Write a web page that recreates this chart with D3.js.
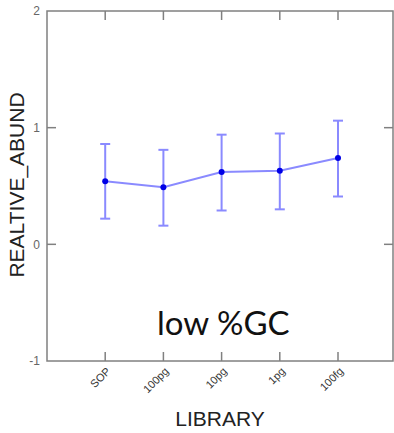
<!DOCTYPE html>
<html>
<head>
<meta charset="utf-8">
<script src="https://cdn.jsdelivr.net/npm/d3@7"></script>
<style>
    body { margin: 0; background: #fff; }
    svg { display: block; }
</style>
</head>
<body>
<div id="chart"><svg></svg></div>
<script>
// data
var libraries = ["SOP", "100pg", "10pg", "1pg", "100fg"];
var means = [0.54, 0.49, 0.62, 0.63, 0.74];
var upper = [0.86, 0.81, 0.94, 0.95, 1.06];
var lower = [0.22, 0.16, 0.29, 0.30, 0.41];
var yTicks = [-1, 0, 1, 2];

var width = 394;
var height = 433;
var svg = d3.select("#chart svg").attr("width", width).attr("height", height);

var boxLeft = 47, boxRight = 393, boxTop = 11, boxBottom = 361;
var axisColor = "#808080";
var tickLen = 9;

var x = d3.scaleLinear().domain([0, libraries.length + 1]).range([boxLeft, boxLeft + 58.2 * (libraries.length + 1)]);
var y = d3.scaleLinear().domain([-1, 2]).range([boxBottom, boxTop]);

// frame
var frame = svg.append("g").attr("class", "frame");
frame.append("rect")
    .attr("x", boxLeft).attr("y", boxTop)
    .attr("width", boxRight - boxLeft).attr("height", boxBottom - boxTop)
    .attr("fill", "none").attr("stroke", axisColor).attr("stroke-width", 1.5);

// x ticks on top and bottom, pointing inward
libraries.forEach(function (lib, i) {
    var xp = x(i + 1);
    frame.append("line").attr("x1", xp).attr("x2", xp)
        .attr("y1", boxBottom).attr("y2", boxBottom - tickLen)
        .attr("stroke", axisColor).attr("stroke-width", 1.5);
    frame.append("line").attr("x1", xp).attr("x2", xp)
        .attr("y1", boxTop).attr("y2", boxTop + tickLen)
        .attr("stroke", axisColor).attr("stroke-width", 1.5);
    frame.append("text")
        .attr("transform", "translate(" + (xp + 6) + "," + (boxBottom + 11) + ") rotate(-45)")
        .attr("text-anchor", "end")
        .attr("font-family", "Liberation Sans, Arial, sans-serif")
        .attr("font-size", 11)
        .attr("fill", "#333")
        .text(lib);
});

// y ticks left and right
yTicks.forEach(function (t) {
    var yp = y(t);
    if (t > -1 && t < 2) {
        frame.append("line").attr("x1", boxLeft).attr("x2", boxLeft + tickLen)
            .attr("y1", yp).attr("y2", yp)
            .attr("stroke", axisColor).attr("stroke-width", 1.5);
        frame.append("line").attr("x1", boxRight).attr("x2", boxRight - tickLen)
            .attr("y1", yp).attr("y2", yp)
            .attr("stroke", axisColor).attr("stroke-width", 1.5);
    }
    frame.append("text")
        .attr("x", boxLeft - 7).attr("y", yp)
        .attr("dy", "0.35em")
        .attr("text-anchor", "end")
        .attr("font-family", "Liberation Sans, Arial, sans-serif")
        .attr("font-size", 12)
        .attr("fill", "#666")
        .text(t);
});

// error bars
var lineColor = "#8a8aff";
var bars = svg.append("g").attr("class", "errorbars");
libraries.forEach(function (lib, i) {
    var xp = x(i + 1);
    bars.append("line").attr("x1", xp).attr("x2", xp)
        .attr("y1", y(lower[i])).attr("y2", y(upper[i]))
        .attr("stroke", lineColor).attr("stroke-width", 2);
    [lower[i], upper[i]].forEach(function (v) {
        bars.append("line").attr("x1", xp - 5).attr("x2", xp + 5)
            .attr("y1", y(v)).attr("y2", y(v))
            .attr("stroke", lineColor).attr("stroke-width", 2);
    });
});

// mean line and markers
var line = d3.line()
    .x(function (d, i) { return x(i + 1); })
    .y(function (d) { return y(d); });
svg.append("path")
    .datum(means)
    .attr("d", line)
    .attr("fill", "none")
    .attr("stroke", lineColor)
    .attr("stroke-width", 2);
svg.append("g").selectAll("circle")
    .data(means)
    .enter().append("circle")
    .attr("cx", function (d, i) { return x(i + 1); })
    .attr("cy", function (d) { return y(d); })
    .attr("r", 3)
    .attr("fill", "#0000e6");

// labels
svg.append("text")
    .attr("transform", "translate(" + 24 + "," + 185 + ") rotate(-90)")
    .attr("text-anchor", "middle")
    .attr("font-family", "Liberation Sans, Arial, sans-serif")
    .attr("font-size", 21)
    .attr("fill", "#222")
    .text("REALTIVE_ABUND");

svg.append("text")
    .attr("x", 220).attr("y", 426)
    .attr("text-anchor", "middle")
    .attr("font-family", "Liberation Sans, Arial, sans-serif")
    .attr("font-size", 21)
    .attr("fill", "#222")
    .text("LIBRARY");

svg.append("text")
    .attr("x", 157).attr("y", 335)
    .attr("font-family", "Lato, Open Sans, sans-serif")
    .attr("font-size", 33)
    .attr("fill", "#111")
    .text("low %GC");
</script>
</body>
</html>
